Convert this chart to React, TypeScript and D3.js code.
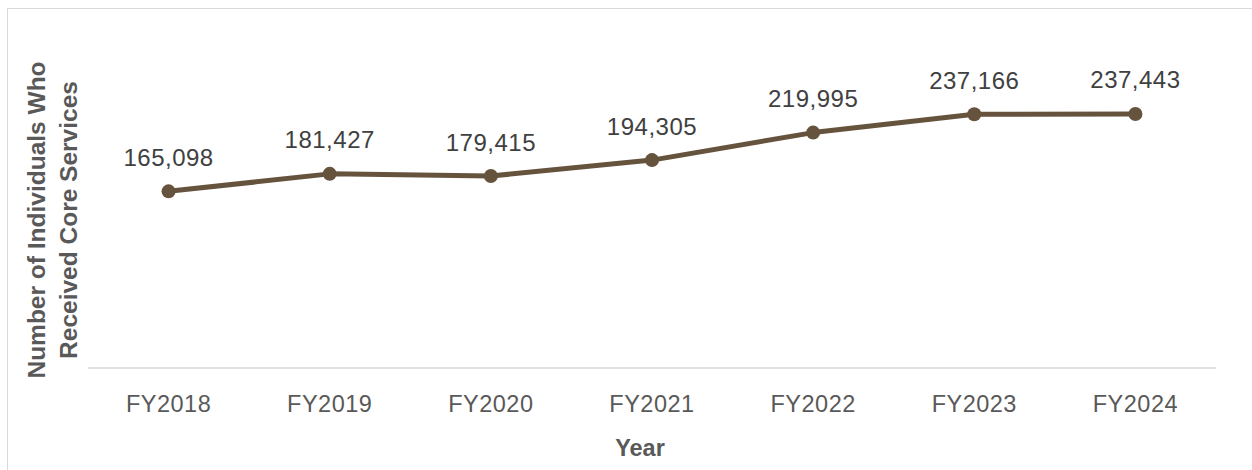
import React from "react";
import * as d3 from "d3";

const categories = ["FY2018", "FY2019", "FY2020", "FY2021", "FY2022", "FY2023", "FY2024"];
const values = [165098, 181427, 179415, 194305, 219995, 237166, 237443];
const yTitleLines = ["Number of Individuals Who", "Received Core Services"];
const xTitle = "Year";

const W = 1252;
const H = 470;
const FONT = "'Liberation Sans', Arial, Helvetica, sans-serif";

export default function App() {
  const x = d3.scaleBand<string>().domain(categories).range([88, 1216]).padding(0);
  const y = d3.scaleLinear().domain([0, 300000]).range([368, 47]);
  const cx = (c: string) => (x(c) as number) + x.bandwidth() / 2;
  const data = categories.map((c, i) => ({ c, v: values[i] }));
  const line = d3
    .line<{ c: string; v: number }>()
    .x((d) => cx(d.c))
    .y((d) => y(d.v));
  const fmt = d3.format(",");
  const lineColor = "#66533e";

  return (
    <svg
      width={W}
      height={H}
      style={{ position: "absolute", left: 0, top: 0, background: "#fff" }}
      fontFamily={FONT}
    >
      <rect x={7.5} y={8.5} width={1300} height={500} fill="#fff" stroke="#d9d9d9" strokeWidth={1} />
      {/* x axis line */}
      <line x1={x.range()[0]} x2={x.range()[1]} y1={y(0)} y2={y(0)} stroke="#d9d9d9" strokeWidth={1.5} />
      {/* tick labels */}
      {categories.map((c) => (
        <text key={c} x={cx(c)} y={411.5} textAnchor="middle" fontSize={23.5} letterSpacing={0.5} fill="#595959">
          {c}
        </text>
      ))}
      {/* line */}
      <path d={line(data) as string} fill="none" stroke={lineColor} strokeWidth={5} strokeLinejoin="round" />
      {data.map((d) => (
        <circle key={d.c} cx={cx(d.c)} cy={y(d.v)} r={7} fill={lineColor} />
      ))}
      {data.map((d) => (
        <text key={"l" + d.c} x={cx(d.c)} y={y(d.v) - 25.5} textAnchor="middle" fontSize={24} letterSpacing={0.5} fill="#404040">
          {fmt(d.v)}
        </text>
      ))}
      {/* x title */}
      <text x={640} y={456} textAnchor="middle" fontSize={23.5} fontWeight="bold" fill="#595959">
        {xTitle}
      </text>
      {/* y title */}
      {yTitleLines.map((t, i) => (
        <text
          key={t}
          transform={`translate(${45 + i * 32},220) rotate(-90)`}
          textAnchor="middle"
          fontSize={24.5}
          fontWeight="bold"
          fill="#595959"
        >
          {t}
        </text>
      ))}
    </svg>
  );
}
